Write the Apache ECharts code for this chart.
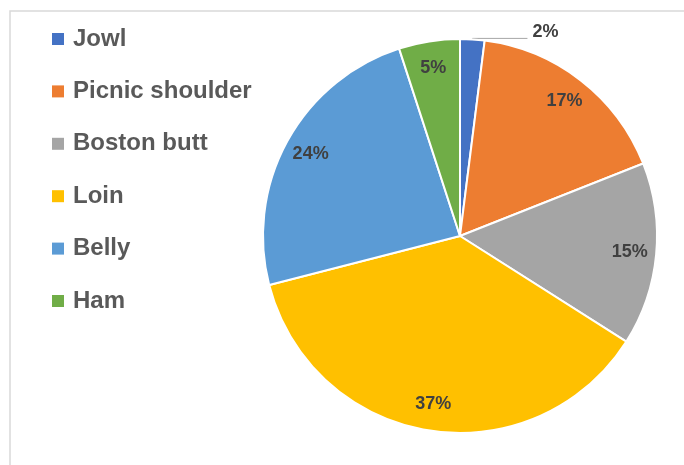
<!DOCTYPE html>
<html lang="en">
<head>
<meta charset="utf-8">
<title>Pork cuts</title>
<script src="https://cdn.jsdelivr.net/npm/echarts@6/dist/echarts.min.js"></script>
<style>
  html, body { margin: 0; padding: 0; background: #fff; }
  #chart { width: 684px; height: 465px; }
</style>
</head>
<body>
<div id="chart"></div>
<script>
  // chart data
  var cuts = ['Jowl', 'Picnic shoulder', 'Boston butt', 'Loin', 'Belly', 'Ham'];
  var shares = [2, 17, 15, 37, 24, 5];
  var colors = ['#4472C4', '#ED7D31', '#A5A5A5', '#FFC000', '#5B9BD5', '#70AD47'];

  var R = 197;
  var center = [460, 236];

  var pieData = cuts.map(function (name, i) {
    return { name: name, value: shares[i], itemStyle: { color: colors[i] } };
  });

  // transparent ring only used to place the labels at ~0.85 of the radius
  var labelData = cuts.map(function (name, i) {
    var item = { name: name, value: shares[i] };
    if (shares[i] < 3) {
      // small slice: label outside, sitting on top of a flat leader line
      item.label = {
        position: 'outside',
        formatter: '{c}%\n ',
        lineHeight: 13,
        distanceToLabelLine: 5
      };
      item.labelLine = {
        show: true,
        length: 1,
        length2: 55,
        lineStyle: { color: '#a6a6a6', width: 1 }
      };
    }
    return item;
  });

  var chart = echarts.init(document.getElementById('chart'));

  var option = {
    animation: false,
    graphic: [{
      type: 'rect',
      shape: { x: 10, y: 11, width: 720, height: 520 },
      style: { fill: 'none', stroke: '#d9d9d9', lineWidth: 1.5 },
      silent: true
    }],
    legend: {
      orient: 'vertical',
      left: 52,
      top: 25,
      padding: 0,
      icon: 'rect',
      itemWidth: 12,
      itemHeight: 12,
      itemGap: 24.4,
      selectedMode: false,
      data: cuts.map(function (name, i) {
        return { name: name, itemStyle: { color: colors[i], borderWidth: 0 } };
      }),
      textStyle: {
        fontFamily: 'Liberation Sans',
        fontWeight: 'bold',
        fontSize: 24,
        lineHeight: 28,
        color: '#595959',
        padding: [0, 0, 0, 4]
      }
    },
    series: [
      {
        type: 'pie',
        center: center,
        radius: [0, R],
        startAngle: 90,
        clockwise: true,
        silent: true,
        label: { show: false },
        labelLine: { show: false },
        itemStyle: { borderColor: '#ffffff', borderWidth: 2 },
        emphasis: { disabled: true },
        data: pieData
      },
      {
        type: 'pie',
        center: center,
        radius: [R * 0.7, R],
        startAngle: 90,
        clockwise: true,
        silent: true,
        avoidLabelOverlap: false,
        itemStyle: { color: 'rgba(0,0,0,0)', borderWidth: 0 },
        emphasis: { disabled: true },
        label: {
          show: true,
          position: 'inside',
          formatter: '{c}%',
          fontFamily: 'Liberation Sans',
          fontWeight: 'bold',
          fontSize: 18,
          color: '#404040'
        },
        labelLine: { show: false },
        data: labelData
      }
    ]
  };

  chart.setOption(option);
</script>
</body>
</html>
